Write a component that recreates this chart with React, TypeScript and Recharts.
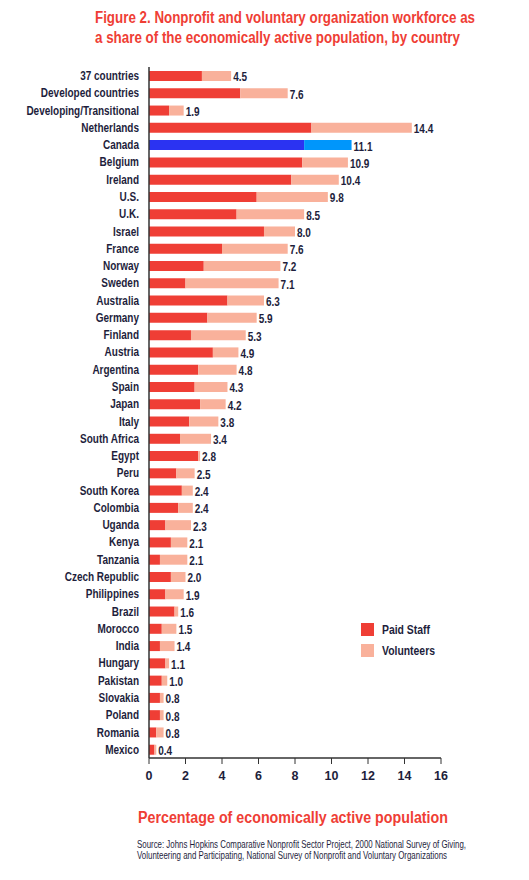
import React from 'react';
import { BarChart, Bar, XAxis, YAxis, Cell, LabelList } from 'recharts';

const countries = [
  '37 countries', 'Developed countries', 'Developing/Transitional', 'Netherlands', 'Canada', 'Belgium',
  'Ireland', 'U.S.', 'U.K.', 'Israel', 'France', 'Norway', 'Sweden', 'Australia', 'Germany', 'Finland',
  'Austria', 'Argentina', 'Spain', 'Japan', 'Italy', 'South Africa', 'Egypt', 'Peru', 'South Korea',
  'Colombia', 'Uganda', 'Kenya', 'Tanzania', 'Czech Republic', 'Philippines', 'Brazil', 'Morocco',
  'India', 'Hungary', 'Pakistan', 'Slovakia', 'Poland', 'Romania', 'Mexico',
];
const paidStaff = [
  2.9, 5.0, 1.1, 8.9, 8.5, 8.4, 7.8, 5.9, 4.8, 6.3, 4.0, 3.0, 2.0, 4.3, 3.2, 2.3, 3.5, 2.7, 2.5, 2.8,
  2.2, 1.7, 2.7, 1.5, 1.8, 1.6, 0.9, 1.2, 0.6, 1.2, 0.9, 1.4, 0.7, 0.6, 0.9, 0.7, 0.6, 0.6, 0.4, 0.3,
];
const volunteers = [
  1.6, 2.6, 0.8, 5.5, 2.6, 2.5, 2.6, 3.9, 3.7, 1.7, 3.6, 4.2, 5.1, 2.0, 2.7, 3.0, 1.4, 2.1, 1.8, 1.4,
  1.6, 1.7, 0.1, 1.0, 0.6, 0.8, 1.4, 0.9, 1.5, 0.8, 1.0, 0.2, 0.8, 0.8, 0.2, 0.3, 0.2, 0.2, 0.4, 0.1,
];
const totals = [
  4.5, 7.6, 1.9, 14.4, 11.1, 10.9, 10.4, 9.8, 8.5, 8.0, 7.6, 7.2, 7.1, 6.3, 5.9, 5.3, 4.9, 4.8, 4.3, 4.2,
  3.8, 3.4, 2.8, 2.5, 2.4, 2.4, 2.3, 2.1, 2.1, 2.0, 1.9, 1.6, 1.5, 1.4, 1.1, 1.0, 0.8, 0.8, 0.8, 0.4,
];
const xTicks = [0, 2, 4, 6, 8, 10, 12, 14, 16];

const data = countries.map((name, i) => ({
  name,
  paid: paidStaff[i],
  volunteers: volunteers[i],
  total: totals[i],
}));

const RED = '#ef3e35';
const PINK = '#f9b19b';
const BLUE = '#2b33f2';
const LIGHT_BLUE = '#0096fb';
const NAVY = '#1e1e3c';
const FONT = "'Liberation Sans', Arial, sans-serif";
const NARROW = 0.8;

// condensed look: squeeze the glyphs horizontally around the anchor point
const CategoryTick = (props: any) => {
  const { x, y, payload } = props;
  return (
    <text
      transform={`translate(${x},${y}) scale(${NARROW},1)`}
      textAnchor="end"
      dominantBaseline="central"
      fill={NAVY}
      fontSize={12.5}
      fontWeight="bold"
      fontFamily={FONT}
    >
      {payload.value}
    </text>
  );
};

const TotalLabel = (props: any) => {
  const { x, y, width, height, value } = props;
  return (
    <text
      transform={`translate(${x + width + 2},${y + height / 2 + 1}) scale(${NARROW},1)`}
      dominantBaseline="central"
      fill={NAVY}
      fontSize={12.5}
      fontWeight="bold"
      fontFamily={FONT}
    >
      {Number(value).toFixed(1)}
    </text>
  );
};

// a squeezed text line that spans exactly `w` pixels from (x, y)
const Squeezed = ({ x, y, w, k, size, fill, weight, children }: any) => (
  <g transform={`translate(${x},${y}) scale(${k},1)`}>
    <text x={0} y={0} fill={fill} fontSize={size} fontWeight={weight} textLength={w / k} lengthAdjust="spacingAndGlyphs">
      {children}
    </text>
  </g>
);

const App = () => {
  return (
    <div style={{ position: 'absolute', left: 0, top: 0, width: 529, height: 880, background: '#fff' }}>
      <BarChart
        width={529}
        height={800}
        data={data}
        layout="vertical"
        margin={{ top: 67, right: 88, bottom: 12, left: 0 }}
        barSize={10}
      >
        <XAxis
          type="number"
          domain={[0, 16]}
          ticks={xTicks}
          interval={0}
          axisLine={{ stroke: '#333', strokeWidth: 1.5 }}
          tickLine={{ stroke: '#333' }}
          tickSize={6}
          tickMargin={7}
          tick={{ fill: NAVY, fontSize: 12.5, fontWeight: 'bold', fontFamily: FONT }}
          height={30}
        />
        <YAxis
          type="category"
          dataKey="name"
          width={149}
          interval={0}
          axisLine={{ stroke: '#333', strokeWidth: 1.5 }}
          tickLine={false}
          tickSize={8}
          tickMargin={2}
          tick={<CategoryTick />}
        />
        <Bar dataKey="paid" stackId="a" isAnimationActive={false}>
          {data.map((d) => (
            <Cell key={d.name} fill={d.name === 'Canada' ? BLUE : RED} />
          ))}
        </Bar>
        <Bar dataKey="volunteers" stackId="a" isAnimationActive={false}>
          {data.map((d) => (
            <Cell key={d.name} fill={d.name === 'Canada' ? LIGHT_BLUE : PINK} />
          ))}
          <LabelList dataKey="total" content={<TotalLabel />} />
        </Bar>
      </BarChart>
      <svg
        width={529}
        height={880}
        style={{ position: 'absolute', left: 0, top: 0, pointerEvents: 'none' }}
        fontFamily={FONT}
      >
        <Squeezed x={95} y={23} w={380} k={0.78} size={16.5} fill={RED} weight="bold">
          Figure 2. Nonprofit and voluntary organization workforce as
        </Squeezed>
        <Squeezed x={95} y={43} w={365} k={0.78} size={16.5} fill={RED} weight="bold">
          a share of the economically active population, by country
        </Squeezed>

        <rect x={361} y={623} width={13} height={13} fill={RED} />
        <Squeezed x={382} y={634} w={48} k={0.8} size={12.5} fill={NAVY} weight="bold">
          Paid Staff
        </Squeezed>
        <rect x={361} y={644} width={13} height={13} fill={PINK} />
        <Squeezed x={382} y={655} w={53} k={0.8} size={12.5} fill={NAVY} weight="bold">
          Volunteers
        </Squeezed>

        <Squeezed x={138} y={823} w={310} k={0.8} size={17} fill={RED} weight="bold">
          Percentage of economically active population
        </Squeezed>
        <Squeezed x={137} y={848} w={329} k={0.72} size={10} fill={NAVY} weight="normal">
          Source: Johns Hopkins Comparative Nonprofit Sector Project, 2000 National Survey of Giving,
        </Squeezed>
        <Squeezed x={137} y={859} w={310} k={0.72} size={10} fill={NAVY} weight="normal">
          Volunteering and Participating, National Survey of Nonprofit and Voluntary Organizations
        </Squeezed>
      </svg>
    </div>
  );
};

export default App;
